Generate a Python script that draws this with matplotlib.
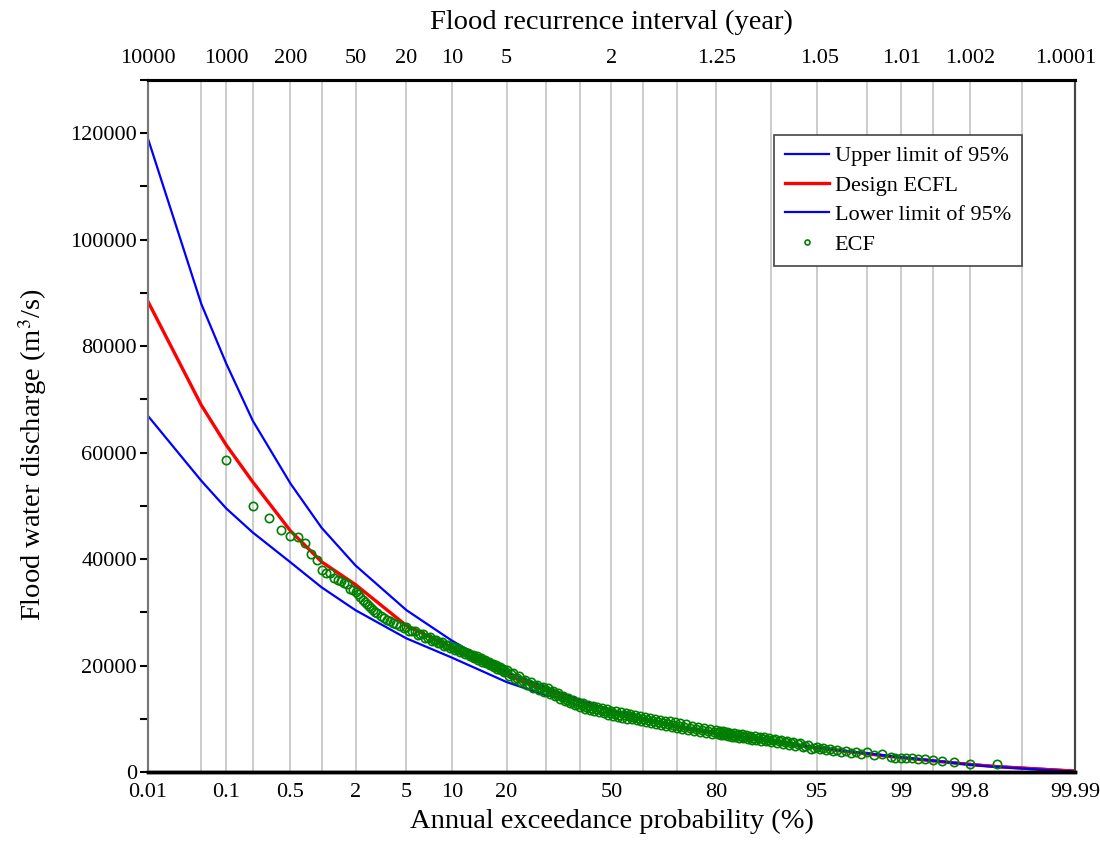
import numpy as np
import matplotlib.pyplot as plt
import matplotlib.transforms as mtransforms
from matplotlib.ticker import MultipleLocator
from statistics import NormalDist

plt.rcParams['font.family'] = ['Liberation Serif', 'DejaVu Serif']
plt.rcParams['mathtext.fontset'] = 'stix'

# exceedance probability (%) of the fitted curve nodes
curve_prob = [0.01, 0.05, 0.1, 0.2, 0.5, 1, 2, 5, 10, 20, 30, 40, 50,
              60, 70, 80, 90, 95, 98, 99, 99.5, 99.8, 99.9, 99.99]
upper_limit = [119000, 87900, 76700, 66000, 54200, 45900, 38800, 30400, 24700,
               18750, 15900, 13500, 11600, 10100, 8500, 7300, 5900, 4600,
               3500, 2800, 2200, 1500, 1100, 250]
design_ecfl = [88400, 68900, 61400, 54500, 45300, 39500, 35200, 27500, 23400,
               18200, 15300, 13300, 11500, 10000, 8400, 7200, 5750, 4500,
               3400, 2700, 2100, 1400, 1000, 150]
lower_limit = [66900, 54700, 49500, 45000, 39400, 34700, 30400, 25100, 21500,
               16900, 14400, 13400, 11600, 10100, 8450, 7300, 5900, 4600,
               3500, 2750, 2150, 1350, 950, 50]

ecf_prob_high = [0.1, 0.2, 0.3, 0.4, 0.5, 0.6, 0.7, 0.8, 0.9, 1.0,
                 1.1, 1.2, 1.3, 1.4, 1.5, 1.6, 1.7, 1.8, 1.9, 2.0,
                 2.1, 2.2, 2.3, 2.4, 2.5, 2.6, 2.7, 2.8, 2.9, 3.0,
                 3.2, 3.4, 3.6, 3.8, 4.0, 4.2, 4.5, 4.8]
ecf_flow_high = [58700, 49900, 47800, 45400, 44300, 44100, 43100, 40900, 39800, 37900,
                 37300, 37300, 36500, 36100, 35900, 35600, 35300, 34400, 34100, 33900,
                 33400, 32900, 32300, 31900, 31500, 31200, 30800, 30400, 30100, 29800,
                 29400, 28900, 28600, 28300, 28000, 27800, 27500, 27100]

ecf_prob_a = [5.0, 5.25, 5.5, 5.75, 6.0, 6.25, 6.5, 6.75, 7.0, 7.25,
              7.5, 7.75, 8.0, 8.25, 8.5, 8.75, 9.0, 9.25, 9.5, 9.75,
              10.0, 10.25, 10.5, 10.75, 11.0, 11.25, 11.5, 11.75, 12.0, 12.25,
              12.5, 12.75, 13.0, 13.25, 13.5, 13.75, 14.0, 14.25, 14.5, 14.75,
              15.0, 15.25, 15.5, 15.75, 16.0, 16.25, 16.5, 16.75, 17.0, 17.25,
              17.5, 17.75, 18.0, 18.25, 18.5, 18.75, 19.0, 19.25, 19.5, 19.75]
ecf_flow_a = [27150, 26440, 26480, 26510, 25800, 25840, 25880, 25160, 25200, 25300,
              24650, 24750, 24850, 24200, 24300, 24400, 23750, 23850, 23950, 23300,
              23400, 23530, 22900, 23030, 23150, 22530, 22650, 22780, 22150, 22280,
              22400, 21780, 21900, 22040, 21430, 21560, 21700, 21090, 21230, 21360,
              20750, 20890, 21030, 20410, 20550, 20690, 20080, 20210, 20350, 19740,
              19890, 20030, 19420, 19560, 19700, 19100, 19240, 19380, 18770, 18910]

ecf_prob_b = [20, 20.5, 21, 21.5, 22, 22.5, 23, 23.5, 24, 24.5,
              25, 25.5, 26, 26.5, 27, 27.5, 28, 28.5, 29, 29.5,
              30, 30.5, 31, 31.5, 32, 32.5, 33, 33.5, 34, 34.5,
              35, 35.5, 36, 36.5, 37, 37.5, 38, 38.5, 39, 39.5,
              40, 40.5, 41, 41.5, 42, 42.5, 43, 43.5, 44, 44.5,
              45, 45.5, 46, 46.5, 47, 47.5, 48, 48.5, 49, 49.5,
              50, 50.5, 51, 51.5, 52, 52.5, 53, 53.5, 54, 54.5,
              55, 55.5, 56, 56.5, 57, 57.5, 58, 58.5, 59, 59.5,
              60, 60.5, 61, 61.5, 62, 62.5, 63, 63.5, 64, 64.5,
              65, 65.5, 66, 66.5, 67, 67.5, 68, 68.5, 69, 69.5,
              70, 70.5, 71, 71.5, 72, 72.5, 73, 73.5, 74, 74.5,
              75, 75.5, 76, 76.5, 77, 77.5, 78, 78.5, 79, 79.5]
ecf_flow_b = [19250, 18125, 18350, 18575, 17450, 17700, 17950, 16850, 17100, 17375,
              16300, 16575, 16850, 15800, 16100, 16425, 15400, 15725, 16050, 15050,
              15400, 15700, 14650, 14950, 15250, 14200, 14500, 14800, 13750, 14050,
              14350, 13300, 13600, 13925, 12900, 13225, 13550, 12525, 12850, 13175,
              12150, 12525, 12900, 11925, 12300, 12675, 11700, 12075, 12450, 11475,
              11850, 12225, 11250, 11625, 12000, 11025, 11400, 11775, 10800, 11175,
              11550, 10590, 10980, 11370, 10410, 10800, 11190, 10230, 10620, 11010,
              10050, 10440, 10830, 9870, 10260, 10650, 9690, 10080, 10470, 9510,
              9900, 10300, 9350, 9750, 10150, 9200, 9600, 10000, 9050, 9450,
              9850, 8890, 9280, 9670, 8710, 9100, 9490, 8530, 8920, 9310,
              8350, 8735, 9120, 8155, 8540, 8925, 7960, 8345, 8730, 7765,
              8150, 8535, 7570, 7955, 8340, 7375, 7760, 8145, 7180, 7565]

ecf_prob_c = [80.0, 80.25, 80.5, 80.75, 81.0, 81.25, 81.5, 81.75, 82.0, 82.25,
              82.5, 82.75, 83.0, 83.25, 83.5, 83.75, 84.0, 84.25, 84.5, 84.75,
              85.0, 85.25, 85.5, 85.75, 86.0, 86.25, 86.5, 86.75, 87.0, 87.25,
              87.5, 87.75, 88.0, 88.25, 88.5, 88.75, 89.0, 89.25, 89.5, 89.75,
              90.0, 90.25, 90.5, 90.75, 91.0, 91.25, 91.5, 91.75, 92.0, 92.25,
              92.5, 92.75, 93.0, 93.25, 93.5, 93.75, 94.0, 94.25, 94.5, 94.75]
ecf_flow_c = [7850, 7110, 7425, 7740, 7000, 7310, 7625, 6890, 7200, 7510,
              6775, 7090, 7400, 6660, 6975, 7290, 6550, 6860, 7175, 6440,
              6750, 7060, 6325, 6640, 6950, 6210, 6525, 6840, 6100, 6410,
              6725, 5990, 6300, 6610, 5875, 6190, 6500, 5760, 6075, 6390,
              5650, 5940, 6230, 5475, 5770, 6060, 5300, 5590, 5880, 5125,
              5420, 5710, 4950, 5200, 5450, 4650, 4900, 5150, 4350, 4600]

ecf_prob_low = [95.0, 95.25, 95.5, 95.75, 96.0, 96.25, 96.5, 96.75,
                97.0, 97.25, 97.5, 97.75, 98.0, 98.25, 98.5, 98.75,
                98.85, 99.0, 99.1, 99.2, 99.3, 99.4, 99.5, 99.6, 99.7, 99.8, 99.9]
ecf_flow_low = [4650, 4250, 4450, 4050, 4250, 3870, 4100, 3720,
                3950, 3600, 3850, 3470, 3700, 3230, 3300, 2900,
                2650, 2650, 2620, 2600, 2500, 2430, 2250, 2050, 1870, 1450, 1450]

ecf_prob = ecf_prob_high + ecf_prob_a + ecf_prob_b + ecf_prob_c + ecf_prob_low
ecf_flow = ecf_flow_high + ecf_flow_a + ecf_flow_b + ecf_flow_c + ecf_flow_low

bottom_ticks = [0.01, 0.1, 0.5, 2, 5, 10, 20, 50, 80, 95, 99, 99.8, 99.99]
bottom_labels = ['0.01', '0.1', '0.5', '2', '5', '10', '20', '50', '80',
                 '95', '99', '99.8', '99.99']
top_years = [10000, 1000, 200, 50, 20, 10, 5, 2, 1.25, 1.05, 1.01, 1.002, 1.0001]
top_labels = ['10000', '1000', '200', '50', '20', '10', '5', '2', '1.25',
              '1.05', '1.01', '1.002', '1.0001']
grid_prob = [0.05, 0.1, 0.2, 0.5, 1, 2, 5, 10, 20, 30, 40, 50, 60, 70, 80,
             90, 95, 98, 99, 99.5, 99.8, 99.95]

nd = NormalDist()


def prob_to_z(p):
    # probability paper: position is the standard normal quantile
    return np.array([nd.inv_cdf(v / 100.0) for v in p])


fig = plt.figure(figsize=(11, 8.44), dpi=100)
ax = fig.add_axes([0.1345, 0.0853, 0.8428, 0.8199])

for gz in prob_to_z(grid_prob):
    ax.axvline(gz, color='#c8c8c8', lw=1.3, zorder=0)

zc = prob_to_z(curve_prob)
ax.plot(zc, upper_limit, color='#0000ff', lw=1.6, label='Upper limit of 95%', zorder=2)
ax.plot(zc, design_ecfl, color='#ff0000', lw=2.4, label='Design ECFL', zorder=2)
ax.plot(zc, lower_limit, color='#0000ff', lw=1.6, label='Lower limit of 95%', zorder=2)
ax.plot(prob_to_z(ecf_prob), ecf_flow, 'o', ms=6, mfc='none', mec='#008000',
        mew=1.2, label='ECF', zorder=3)

xmin, xmax = prob_to_z([0.01, 99.99])
ax.set_xlim(xmin, xmax)

ax.set_xticks(prob_to_z(bottom_ticks))
ax.set_xticklabels(bottom_labels)
ax.tick_params(axis='x', length=0, pad=8, labelsize=16)
ax.yaxis.set_major_locator(MultipleLocator(20000))
ax.yaxis.set_minor_locator(MultipleLocator(10000))
ax.set_ylim(0, 130000)
ax.tick_params(axis='y', which='both', length=6, width=1.5, direction='out',
               labelsize=16, pad=2)

ax.set_xlabel('Annual exceedance probability (%)', fontsize=20.5, labelpad=5)
ax.set_ylabel('Flood water discharge (m$^3$/s)', fontsize=20.5)
ax.yaxis.set_label_coords(-0.107, 0.458)

ax2 = ax.twiny()
ax2.set_xlim(xmin, xmax)
ax2.set_xticks(prob_to_z([100.0 / t for t in top_years]))
ax2.set_xticklabels(top_labels)
ax2.tick_params(axis='x', length=0, pad=9, labelsize=16)
ax2.set_xlabel('Flood recurrence interval (year)', fontsize=20.5, labelpad=14)
last = ax2.get_xticklabels()[-1]
last.set_transform(last.get_transform() +
                   mtransforms.ScaledTranslation(-9 / 100, 0, fig.dpi_scale_trans))

for a in (ax, ax2):
    a.spines['top'].set_linewidth(2.2)
    a.spines['bottom'].set_linewidth(2.5)
    a.spines['left'].set_color('#777777')
    a.spines['left'].set_linewidth(1.5)
    a.spines['right'].set_color('#444444')
    a.spines['right'].set_linewidth(1.5)

leg = ax.legend(loc='upper right', bbox_to_anchor=(0.943, 0.921),
                borderaxespad=0, fontsize=16, fancybox=False, framealpha=1,
                edgecolor='#444444', handlelength=2.0, handletextpad=0.25,
                labelspacing=0.4, borderpad=0.5, markerscale=0.6, numpoints=1)
leg.get_frame().set_linewidth(1.2)

fig.savefig('out.png', dpi=100)
